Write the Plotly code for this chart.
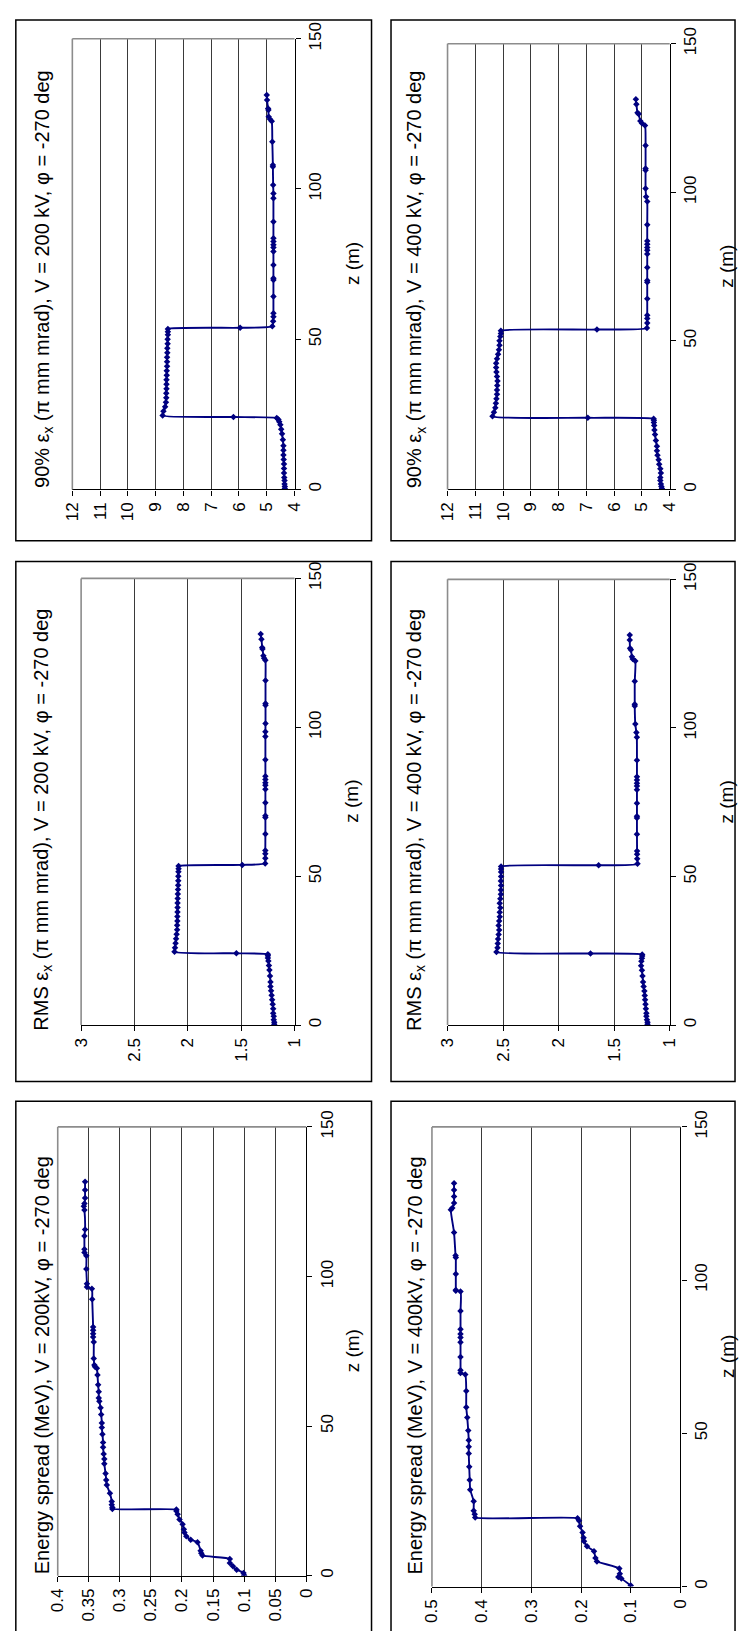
import plotly.graph_objects as go

W, H = 746, 1631

# ---------------- data ----------------
# z positions (m) shared by the four emittance panels
z_emit = [0.3, 1.0, 1.8, 3.0, 4.0, 5.5, 7.0, 8.5, 10.0, 11.5, 13.0, 14.5, 16.5, 18.5, 20.0, 21.5, 22.5, 23.3, 23.8,
          24.1,
          24.6, 26.0, 27.5, 29.0, 30.5, 32.0, 33.5, 35.0, 36.5, 38.0, 39.5, 41.0, 42.5, 44.0, 45.5, 47.0, 48.5, 50.0, 51.5, 52.5, 53.4,
          53.8,
          54.3, 56.0, 57.5, 58.6, 64.2, 69.7, 70.3, 74.7, 79.2, 80.5, 81.4, 82.5, 83.6, 89.1, 96.9, 98.5, 101.3, 107.4, 108.0,
          115.7, 122.5, 123.2, 124.0, 126.3, 126.8, 129.6, 131.3]

# 90% emittance, V = 200 kV
emit90_200 = [4.35, 4.35, 4.36, 4.36, 4.37, 4.38, 4.38, 4.38, 4.39, 4.40, 4.40, 4.40, 4.42, 4.45, 4.48, 4.51, 4.55, 4.58, 4.64,
              6.20,
              8.75, 8.72, 8.66, 8.63, 8.62, 8.62, 8.61, 8.61, 8.61, 8.60, 8.60, 8.59, 8.59, 8.59, 8.58, 8.58, 8.57, 8.57, 8.56, 8.56, 8.56,
              5.96,
              4.80, 4.77, 4.76, 4.76, 4.76, 4.76, 4.76, 4.76, 4.76, 4.76, 4.76, 4.76, 4.76, 4.76, 4.76, 4.76, 4.77, 4.78, 4.78,
              4.80, 4.82, 4.88, 4.93, 4.94, 4.95, 4.99, 5.00]

# 90% emittance, V = 400 kV
emit90_400 = [4.28, 4.30, 4.32, 4.34, 4.34, 4.32, 4.34, 4.38, 4.40, 4.44, 4.46, 4.46, 4.50, 4.53, 4.55, 4.56, 4.57, 4.57, 4.58,
              6.95,
              10.38, 10.33, 10.28, 10.26, 10.24, 10.22, 10.22, 10.21, 10.20, 10.22, 10.24, 10.25, 10.25, 10.22, 10.18, 10.15, 10.13, 10.13, 10.10, 10.08, 10.08,
              6.62,
              4.82, 4.81, 4.81, 4.81, 4.81, 4.81, 4.81, 4.81, 4.81, 4.81, 4.81, 4.81, 4.81, 4.81, 4.81, 4.85, 4.87, 4.87, 4.87,
              4.87, 4.89, 5.00, 5.06, 5.12, 5.16, 5.20, 5.22]

# RMS emittance, V = 200 kV
rms_200 = [1.190, 1.190, 1.195, 1.195, 1.200, 1.200, 1.205, 1.210, 1.215, 1.220, 1.225, 1.225, 1.230, 1.235, 1.240, 1.245, 1.250, 1.250, 1.250,
           1.545,
           2.125, 2.120, 2.115, 2.110, 2.105, 2.100, 2.100, 2.098, 2.098, 2.097, 2.096, 2.096, 2.095, 2.094, 2.092, 2.091, 2.090, 2.089, 2.088, 2.087, 2.087,
           1.490,
           1.275, 1.274, 1.274, 1.274, 1.273, 1.273, 1.273, 1.273, 1.273, 1.273, 1.273, 1.273, 1.273, 1.273, 1.273, 1.273, 1.272, 1.272, 1.272,
           1.272, 1.273, 1.285, 1.292, 1.300, 1.303, 1.310, 1.317]

# RMS emittance, V = 400 kV
rms_400 = [1.200, 1.200, 1.205, 1.210, 1.210, 1.215, 1.218, 1.222, 1.225, 1.228, 1.235, 1.240, 1.245, 1.250, 1.258, 1.255, 1.250, 1.248, 1.248,
           1.713,
           2.560, 2.550, 2.548, 2.545, 2.540, 2.535, 2.540, 2.535, 2.530, 2.530, 2.525, 2.530, 2.525, 2.520, 2.520, 2.518, 2.520, 2.518, 2.518, 2.518, 2.518,
           1.640,
           1.290, 1.293, 1.294, 1.294, 1.295, 1.295, 1.295, 1.295, 1.295, 1.295, 1.295, 1.295, 1.295, 1.295, 1.296, 1.300, 1.310, 1.315, 1.315,
           1.315, 1.310, 1.333, 1.340, 1.350, 1.357, 1.360, 1.360]

# Energy spread, V = 200 kV
z_es_200 = [0.1, 0.9, 2.0, 3.1, 4.2, 5.6, 6.7, 7.5, 8.3, 11.2, 12.0, 13.2, 14.4, 15.5, 17.2, 18.8, 20.5, 21.6, 22.1, 22.3,
            22.8, 23.7, 24.8, 27.5, 30.3, 32.0, 34.1, 37.4, 39.0, 40.7, 42.9, 44.5, 47.3, 49.5, 51.0, 53.9, 56.1, 58.3, 59.4,
            61.5, 63.8, 67.1, 69.3, 69.8, 70.4, 72.6, 78.1, 79.8, 80.9, 82.0, 83.1, 92.4, 95.9, 96.5, 97.6, 102.5, 106.9,
            108.0, 109.1, 113.5, 115.7, 122.2, 123.5, 124.4, 126.2, 128.9, 131.7]
es_200 = [0.100, 0.101, 0.112, 0.118, 0.123, 0.123, 0.167, 0.169, 0.170, 0.175, 0.186, 0.193, 0.196, 0.197, 0.199, 0.204,
          0.207, 0.209, 0.209, 0.312, 0.312, 0.313, 0.313, 0.316, 0.321, 0.322, 0.323, 0.325, 0.325, 0.326, 0.327, 0.327,
          0.328, 0.329, 0.329, 0.330, 0.331, 0.333, 0.334, 0.334, 0.335, 0.336, 0.337, 0.340, 0.341, 0.342, 0.342, 0.343,
          0.343, 0.343, 0.343, 0.3445, 0.345, 0.353, 0.353, 0.354, 0.354, 0.357, 0.357, 0.357, 0.356, 0.357, 0.358, 0.357,
          0.356, 0.356, 0.356]

# Energy spread, V = 400 kV
z_es_400 = [0.3, 2.6, 3.1, 4.2, 5.9, 8.2, 9.3, 11.5, 13.1, 14.8, 15.9, 17.6, 19.7, 21.5, 22.3, 22.5, 23.6, 24.7, 27.8,
            31.6, 34.8, 39.1, 43.4, 45.6, 47.7, 50.9, 55.2, 58.5, 63.8, 69.2, 69.7, 70.6, 74.9, 79.7, 81.3, 82.4, 84.0,
            89.9, 96.3, 96.5, 96.8, 102.0, 107.4, 108.0, 115.5, 123.0, 123.5, 125.2, 127.3, 129.4, 131.6]
es_400 = [0.100, 0.119, 0.125, 0.122, 0.123, 0.168, 0.171, 0.174, 0.188, 0.194, 0.195, 0.197, 0.202, 0.204, 0.207,
          0.413, 0.414, 0.416, 0.416, 0.423, 0.424, 0.425, 0.426, 0.426, 0.426, 0.427, 0.429, 0.431, 0.431, 0.433,
          0.4425, 0.4425, 0.4425, 0.4425, 0.4425, 0.4425, 0.4425, 0.4425, 0.4425, 0.452, 0.452, 0.452, 0.452, 0.4525,
          0.4555, 0.462, 0.459, 0.4555, 0.4555, 0.4555, 0.4555]

# tick values / labels
z_ticks = [0, 50, 100, 150]
z_ticklabels = ["0", "50", "100", "150"]
ticks_90 = [12, 11, 10, 9, 8, 7, 6, 5, 4]
ticklabels_90 = ["12", "11", "10", "9", "8", "7", "6", "5", "4"]
ticks_rms = [3, 2.5, 2, 1.5, 1]
ticklabels_rms = ["3", "2.5", "2", "1.5", "1"]
ticks_es200 = [0.4, 0.35, 0.3, 0.25, 0.2, 0.15, 0.1, 0.05, 0]
ticklabels_es200 = ["0.4", "0.35", "0.3", "0.25", "0.2", "0.15", "0.1", "0.05", "0"]
ticks_es400 = [0.5, 0.4, 0.3, 0.2, 0.1, 0]
ticklabels_es400 = ["0.5", "0.4", "0.3", "0.2", "0.1", "0"]

titles = [
    "90% ε<sub>x</sub> (π mm mrad), V = 200 kV, φ = -270 deg",
    "90% ε<sub>x</sub> (π mm mrad), V = 400 kV, φ = -270 deg",
    "RMS ε<sub>x</sub> (π mm mrad), V = 200 kV, φ = -270 deg",
    "RMS ε<sub>x</sub> (π mm mrad), V = 400 kV, φ = -270 deg",
    "Energy spread (MeV), V = 200kV, φ = -270 deg",
    "Energy spread (MeV), V = 400kV, φ = -270 deg",
]
z_title = "z (m)"

# ---------------- layout geometry (pixels) ----------------
panels = [
    dict(z=z_emit, v=emit90_200, rng=[12, 4], tv=ticks_90, tt=ticklabels_90, title=titles[0],
         plot=(65, 22, 293, 478), box=(7, 3, 372, 530), tx=36, ty=265, zx=352),
    dict(z=z_emit, v=emit90_400, rng=[12, 4], tv=ticks_90, tt=ticklabels_90, title=titles[1],
         plot=(450, 27, 678, 478), box=(392, 3, 745, 530), tx=418, ty=265, zx=736),
    dict(z=z_emit, v=rms_200, rng=[3, 1], tv=ticks_rms, tt=ticklabels_rms, title=titles[2],
         plot=(74, 568, 293, 1020), box=(7, 551, 372, 1077), tx=34, ty=812, zx=352),
    dict(z=z_emit, v=rms_400, rng=[3, 1], tv=ticks_rms, tt=ticklabels_rms, title=titles[3],
         plot=(450, 569, 678, 1020), box=(392, 551, 745, 1077), tx=417, ty=812, zx=736),
    dict(z=z_es_200, v=es_200, rng=[0.4, 0], tv=ticks_es200, tt=ticklabels_es200, title=titles[4],
         plot=(50, 1123, 305, 1577), box=(7, 1097, 372, 1640), tx=34, ty=1364, zx=352),
    dict(z=z_es_400, v=es_400, rng=[0.5, 0], tv=ticks_es400, tt=ticklabels_es400, title=titles[5],
         plot=(434, 1123, 689, 1588), box=(392, 1097, 745, 1640), tx=417, ty=1364, zx=737),
]

FONT = "Liberation Sans, Arial, sans-serif"


def px(x):
    return x / W


def py(y):
    return 1 - y / H


fig = go.Figure()
layout = dict(
    width=W, height=H, margin=dict(l=0, r=0, t=0, b=0),
    paper_bgcolor="white", plot_bgcolor="white", showlegend=False,
    font=dict(family=FONT, color="black"),
)
shapes = []
annotations = []

for i, p in enumerate(panels, start=1):
    key = "" if i == 1 else str(i)
    xa, ya = "x" + key, "y" + key
    fig.add_trace(go.Scatter(
        x=p["v"], y=p["z"], xaxis=xa, yaxis=ya, mode="lines+markers",
        line=dict(color="#000080", width=1.9, shape="spline", smoothing=0.5),
        marker=dict(symbol="diamond", size=5, color="#000080"),
        hoverinfo="skip", cliponaxis=True,
    ))
    x0, y0, x1, y1 = p["plot"]
    layout["xaxis" + key] = dict(
        domain=[px(x0), px(x1)], anchor=ya, range=p["rng"],
        tickmode="array", tickvals=p["tv"], ticktext=p["tt"], tickangle=-90,
        ticks="outside", ticklen=5, tickcolor="black", tickwidth=1,
        showline=True, linecolor="black", linewidth=1.2,
        showgrid=True, gridcolor="#3a3a3a", gridwidth=1, zeroline=False,
        tickfont=dict(size=17, color="black", family=FONT), fixedrange=True,
    )
    layout["yaxis" + key] = dict(
        domain=[py(y1), py(y0)], anchor=xa, side="right", range=[0, 150],
        tickmode="array", tickvals=z_ticks, ticktext=z_ticklabels, tickangle=-90,
        ticks="outside", ticklen=5, tickcolor="black", tickwidth=1,
        showline=True, linecolor="black", linewidth=1.2,
        showgrid=False, zeroline=False,
        tickfont=dict(size=17, color="black", family=FONT), fixedrange=True,
    )
    # gray plot-area border (left and top)
    shapes.append(dict(type="line", xref="paper", yref="paper", x0=px(x0), x1=px(x0), y0=py(y0), y1=py(y1),
                       line=dict(color="#8c8c8c", width=1.6)))
    shapes.append(dict(type="line", xref="paper", yref="paper", x0=px(x0), x1=px(x1), y0=py(y0), y1=py(y0),
                       line=dict(color="#8c8c8c", width=1.6)))
    # chart box
    bx0, by0, bx1, by1 = p["box"]
    shapes.append(dict(type="rect", xref="paper", yref="paper", x0=px(bx0), x1=px(bx1), y0=py(by1), y1=py(by0),
                       line=dict(color="black", width=1.5), fillcolor="rgba(0,0,0,0)"))
    # titles
    annotations.append(dict(text=p["title"], xref="paper", yref="paper", x=px(p["tx"]), y=py(p["ty"]),
                            textangle=-90, showarrow=False, xanchor="center", yanchor="middle",
                            font=dict(size=20, family=FONT, color="black")))
    annotations.append(dict(text=z_title, xref="paper", yref="paper", x=px(p["zx"]), y=py((y0 + y1) / 2),
                            textangle=-90, showarrow=False, xanchor="center", yanchor="middle",
                            font=dict(size=19, family=FONT, color="black")))

layout["shapes"] = shapes
layout["annotations"] = annotations
fig.update_layout(**layout)
fig.write_html("out.html")
